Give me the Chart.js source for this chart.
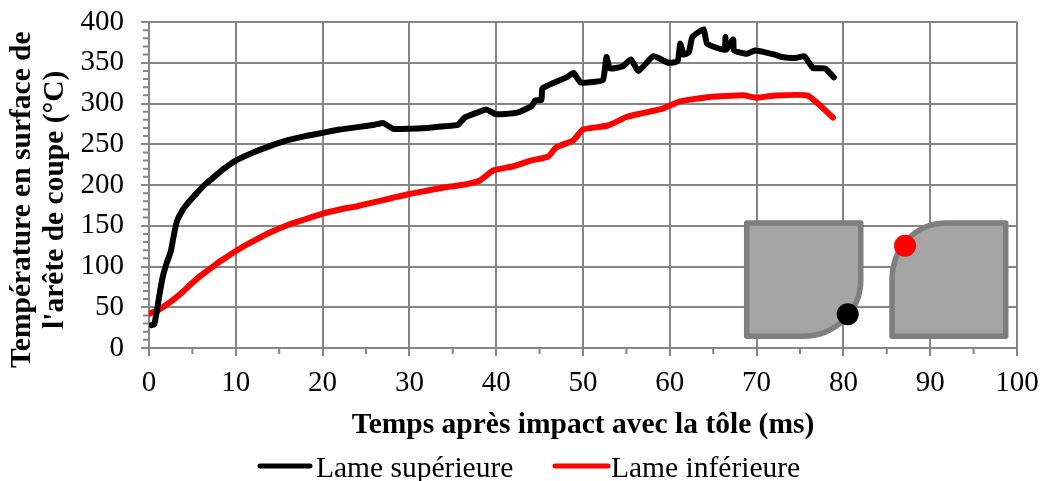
<!DOCTYPE html>
<html><head><meta charset="utf-8">
<style>html,body{margin:0;padding:0;background:#fff}canvas{display:block}</style>
<script src="https://cdn.jsdelivr.net/npm/chart.js@4/dist/chart.umd.min.js"></script>
</head><body><canvas id="c" width="1044" height="481"></canvas>
<script>
const upperT=[0.3,0.6,0.9,1.2,1.6,2,2.5,2.8,3.2,3.8,4.5,5.5,6.5,7.5,8.5,10,12,14,16,18,20,22,24,26,27,28.1,30,32,34,35.6,36.4,38.1,38.9,39.9,41,42.5,44.1,44.5,45.2,45.3,45.8,48.1,48.9,49.7,50.8,52.3,52.7,53.1,54.6,55.5,56.4,58.1,59.8,60.9,61.2,61.6,62.2,62.6,63.9,64.3,66.3,66.4,66.5,67.3,67.4,68.9,69.8,72.1,72.9,74.6,75.5,76.5,77.9,78.9];
const upperV=[28,29,45,65,88,103,118,135,155,168,178,190,201,210,219,230,240,248,255,260,264,268,271,274,276,269,269,270,272,274,283,290,292.5,287,287,289,297,304,304,318,321.5,332,337.5,326,326,329,357,343,345.6,354,340,358,350,352,373.5,360,363,381.6,391,373.5,366,381.6,366,378.7,365,361,365,360,357,356,358,343.5,343,332];
const lowerT=[0,1,2,3,4,5,6,7,8,9,10,12,14,16,18,20,22,24,26,28,30,32,34,36,38,39.7,42,44,46,46.9,48.9,50,52.9,55,56.6,59.2,61.2,64.6,68.5,70,71.9,75.9,78.8];
const lowerV=[42,46,53,61,70,80,89,97,105,112,119,131,142,151,158,165,170,174,179,184,189,193,197,200,205,218,223,230,235,246,255,268,273,283.5,287.6,293.7,302.7,308,310,307,309.6,309.6,282.7];
const upperDot=[80.5,41.3], lowerDot=[87.1,125.5];
const seriesNames=['Lame supérieure','Lame inférieure'];
const seriesColors=['#000000','#ff0000'];
const xTitle='Temps après impact avec la tôle (ms)';
const yTitle=['Température en surface de    ',"l'arête de coupe (°C)    "];
const GRID='#868686', SERIF='"Liberation Serif","Times New Roman",serif';

const decor={id:'decor',
 beforeDatasetsDraw(ch){
  const {x,y}=ch.scales, c=ch.ctx, X=v=>x.getPixelForValue(v), Y=v=>y.getPixelForValue(v);
  c.save();
  c.strokeStyle=GRID;c.lineWidth=2;c.beginPath();
  for(let t=5;t<100;t+=10){c.moveTo(X(t),Y(0));c.lineTo(X(t),Y(0)+6);}
  for(let v=10;v<400;v+=10){if(v%50){c.moveTo(X(0)-6,Y(v));c.lineTo(X(0),Y(v));}}
  c.stroke();
  c.fillStyle='#a5a5a5';c.strokeStyle='#7f7f7f';c.lineWidth=5.5;c.lineJoin='round';
  c.beginPath();
  c.moveTo(X(68.86),Y(153.4));c.lineTo(X(82),Y(153.4));c.lineTo(X(82),Y(83));
  c.bezierCurveTo(X(82),Y(45),X(79),Y(14.4),X(75.3),Y(14.4));
  c.lineTo(X(68.86),Y(14.4));c.closePath();c.fill();c.stroke();
  c.beginPath();
  c.moveTo(X(98.7),Y(153.4));c.lineTo(X(91.9),Y(153.4));
  c.bezierCurveTo(X(88.2),Y(153.4),X(85.6),Y(122),X(85.6),Y(83));
  c.lineTo(X(85.6),Y(14.4));c.lineTo(X(98.7),Y(14.4));c.closePath();c.fill();c.stroke();
  c.restore();
 },
 afterDraw(ch){
  const c=ch.ctx, rows=[[258,312,316],[553,610,611]];
  c.save();c.font='29.5px '+SERIF;c.textBaseline='alphabetic';c.lineCap='round';c.lineWidth=5;
  seriesNames.forEach((n,i)=>{
   c.strokeStyle=seriesColors[i];c.beginPath();c.moveTo(rows[i][0]+2,466);c.lineTo(rows[i][1]-2,466);c.stroke();
   c.fillStyle='#000';c.fillText(n,rows[i][2],477);
  });
  c.restore();
 }};

const pts=(a,b)=>a.map((t,i)=>({x:t,y:b[i]}));
const lineOpts={showLine:true,borderWidth:6,pointRadius:0,tension:0.15,borderJoinStyle:'round',borderCapStyle:'round'};
new Chart(document.getElementById('c'),{
 type:'scatter',
 data:{datasets:[
  {...lineOpts,label:seriesNames[0],data:pts(upperT,upperV),borderColor:seriesColors[0],backgroundColor:seriesColors[0]},
  {...lineOpts,label:seriesNames[1],data:pts(lowerT,lowerV),borderColor:seriesColors[1],backgroundColor:seriesColors[1]},
  {label:'dot1',data:[{x:upperDot[0],y:upperDot[1]}],pointRadius:11,backgroundColor:seriesColors[0],pointBorderWidth:0},
  {label:'dot2',data:[{x:lowerDot[0],y:lowerDot[1]}],pointRadius:11,backgroundColor:seriesColors[1],pointBorderWidth:0}
 ]},
 options:{responsive:false,animation:false,devicePixelRatio:1,
  layout:{padding:{left:0,right:27,top:22,bottom:0}},
  plugins:{tooltip:{enabled:false},title:{display:false},legend:{display:false}},
  scales:{
   x:{type:'linear',min:0,max:100,
    ticks:{stepSize:10,color:'#000',font:{family:SERIF,size:29},maxRotation:0,padding:10},
    grid:{color:GRID,lineWidth:2,tickColor:GRID,tickLength:8},
    border:{color:GRID,width:2},
    title:{display:true,text:xTitle,color:'#000',font:{family:SERIF,size:29.5,weight:'bold'},padding:{top:4,bottom:38}},
    afterFit(s){s.height=133;s.paddingLeft=0;s.paddingRight=0;}},
   y:{type:'linear',min:0,max:400,
    ticks:{stepSize:50,color:'#000',font:{family:SERIF,size:29},padding:17},
    grid:{color:GRID,lineWidth:2,tickColor:GRID,tickLength:8},
    border:{color:GRID,width:2},
    title:{display:true,text:yTitle,color:'#000',font:{family:SERIF,size:29.5,weight:'bold',lineHeight:1.12},padding:{top:6,bottom:0}},
    afterFit(s){s.width=149;s.paddingTop=0;s.paddingBottom=0;}}
  }},
 plugins:[decor]
});
</script></body></html>
